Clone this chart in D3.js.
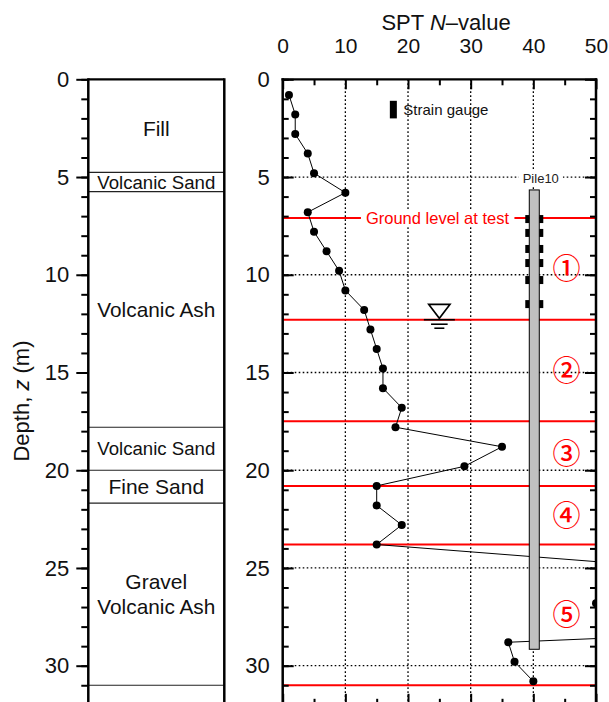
<!DOCTYPE html>
<html><head><meta charset="utf-8">
<script src="https://cdn.jsdelivr.net/npm/d3@7"></script>
<style>
body{margin:0;background:#fff}
svg{display:block;font-family:"Liberation Sans",Arial,sans-serif}
</style>
</head><body>
<svg id="chart" width="609" height="702"></svg>
<script>
// SPT N-value profile (depth in m)
const sptDepth = [0.8,1.8,2.8,3.8,4.8,5.8,6.8,7.8,8.8,9.8,10.8,11.8,12.8,13.8,14.8,15.8,16.8,17.8,18.8,19.8,20.8,21.8,22.8,23.8,24.8,25.8,26.8,27.8,28.8,29.8,30.8];
const sptN     = [1,2,2,4,5,10,4,5,7,9,10,13,14,15,16,16,19,18,35,29,15,15,19,15,55,60,50,110,36,37,40];

// soil column
const layerNames  = ["Fill","Volcanic Sand","Volcanic Ash","Volcanic Sand","Fine Sand","Gravel|Volcanic Ash",""];
const layerTop    = [0,4.76,5.75,17.8,20.0,21.68,31.0];
const layerBottom = [4.76,5.75,17.8,20.0,21.68,31.0,32];

// zone boundaries (red) and zone labels
const zoneDepths = [7.1,12.3,17.5,20.8,23.8,31.0];
const zoneLabels = ["①","②","③","④","⑤"];
const zoneLabelN = 45.3;

// test pile and strain gauges
const pileName = "Pile10";
const pileN = 40.15;
const pileTop = 5.66, pileBottom = 29.16;
const gaugeDepths = [7.15,7.86,8.68,9.4,10.27,11.5];

// ground water level
const waterDepth = 12.3, waterN = 25;

// axes
const depthTicks = [0,5,10,15,20,25,30];
const depthMinor = d3.range(0,33,1);
const nTicks = [0,10,20,30,40,50];
const nMinor = [5,15,25,35,45];

const svg = d3.select("#chart");
const W = 609, H = 702;

const y = d3.scaleLinear().domain([0,32]).range([79.3,704.8]);
const x = d3.scaleLinear().domain([0,50]).range([282.7,596]);
const soil = {left:88.3, right:224.3};

// ---------- soil column ----------
const gSoil = svg.append("g");
layerNames.forEach((name,i)=>{
  if(i>0){
    gSoil.append("line")
      .attr("x1",soil.left).attr("x2",soil.right)
      .attr("y1",y(layerTop[i])).attr("y2",y(layerTop[i]))
      .attr("stroke","#222").attr("stroke-width",1.2);
  }
  if(!name) return;
  const lines = name.split("|");
  const mid = (y(layerTop[i])+y(layerBottom[i]))/2 + (i===0?3:0);
  const lh = 25;
  lines.forEach((ln,j)=>{
    const t = gSoil.append("text")
      .attr("x",(soil.left+soil.right)/2)
      .attr("y",mid + (j-(lines.length-1)/2)*lh)
      .attr("text-anchor","middle").attr("dominant-baseline","central")
      .attr("font-size",21).attr("fill","#111").text(ln);
    const w = t.node().getBBox().width;
    if(w>118) t.attr("font-size",21*118/w);
  });
});
gSoil.append("line").attr("x1",soil.left).attr("x2",soil.right)
  .attr("y1",y(0)).attr("y2",y(0)).attr("stroke","#000").attr("stroke-width",2.2);
[soil.left,soil.right].forEach(xx=>{
  gSoil.append("line").attr("x1",xx).attr("x2",xx)
    .attr("y1",y(0)-1.1).attr("y2",H+5).attr("stroke","#000").attr("stroke-width",2.5);
});

// soil column depth axis (outward ticks)
const soilAxisMinor = d3.axisLeft(y).tickValues(depthMinor).tickSize(7).tickFormat("");
const soilAxis = d3.axisLeft(y).tickValues(depthTicks).tickSize(12).tickPadding(7);
[soilAxisMinor,soilAxis].forEach(ax=>{
  const g = svg.append("g").attr("transform",`translate(${soil.left},0)`).call(ax);
  g.select(".domain").remove();
  g.selectAll(".tick line").attr("stroke-width",2);
  g.selectAll("text").attr("font-size",22).attr("font-family","Liberation Sans, Arial, sans-serif").attr("fill","#111");
});

// ---------- SPT panel ----------
const gGrid = svg.append("g").attr("stroke","#000").attr("stroke-width",1.3).attr("stroke-dasharray","1.6,2.4");
[10,20,30,40].forEach(v=>{
  gGrid.append("line").attr("x1",x(v)).attr("x2",x(v)).attr("y1",y(0)).attr("y2",H+5);
});
[5,10,15,20,25,30].forEach(v=>{
  gGrid.append("line").attr("x1",x(0)).attr("x2",x(50)).attr("y1",y(v)).attr("y2",y(v));
});

// zone boundaries
svg.append("g").selectAll("line").data(zoneDepths).join("line")
  .attr("x1",x(0)).attr("x2",x(50))
  .attr("y1",d=>y(d)).attr("y2",d=>y(d))
  .attr("stroke","#ff0000").attr("stroke-width",2);

// "Ground level at test" label over the first boundary
const glText = svg.append("text")
  .attr("x",x(24.7)).attr("y",y(zoneDepths[0]))
  .attr("text-anchor","middle").attr("dominant-baseline","central")
  .attr("font-size",16.5).attr("fill","#ff0000").text("Ground level at test");
const gb = glText.node().getBBox();
svg.insert("rect",()=>glText.node())
  .attr("x",gb.x-5).attr("y",gb.y).attr("width",gb.width+10).attr("height",gb.height)
  .attr("fill","#fff");

// SPT profile, clipped to the panel
svg.append("clipPath").attr("id","panel").append("rect")
  .attr("x",x(0)).attr("y",y(0)).attr("width",x(50)-x(0)).attr("height",y(32)-y(0));
const gSpt = svg.append("g").attr("clip-path","url(#panel)");
const pts = sptDepth.map((d,i)=>[sptN[i],d]);
gSpt.append("path")
  .attr("d",d3.line().x(p=>x(p[0])).y(p=>y(p[1]))(pts))
  .attr("fill","none").attr("stroke","#000").attr("stroke-width",1);
gSpt.selectAll("circle").data(pts).join("circle")
  .attr("cx",p=>x(p[0])).attr("cy",p=>y(p[1])).attr("r",4).attr("fill","#000");

// pile
const pileW = 10;
svg.append("rect")
  .attr("x",x(pileN)-pileW/2).attr("y",y(pileTop))
  .attr("width",pileW).attr("height",y(pileBottom)-y(pileTop))
  .attr("fill","#c0c0c0").attr("stroke","#000").attr("stroke-width",1);
// strain gauges on both faces
const gGauge = svg.append("g");
gaugeDepths.forEach(d=>{
  [-1,1].forEach(s=>{
    gGauge.append("rect")
      .attr("x", s<0 ? x(pileN)-pileW/2-4 : x(pileN)+pileW/2)
      .attr("y",y(d)-4).attr("width",4).attr("height",8).attr("fill","#000");
  });
});
// pile name
const pText = svg.append("text")
  .attr("x",x(pileN)+6.5).attr("y",y(5.0)+5.5)
  .attr("text-anchor","middle").attr("font-size",13).attr("fill","#222").text(pileName);
const pb = pText.node().getBBox();
svg.insert("rect",()=>pText.node())
  .attr("x",pb.x-4).attr("y",pb.y).attr("width",pb.width+8).attr("height",pb.height)
  .attr("fill","#fff");

// strain gauge legend
svg.append("rect").attr("x",x(17.1)).attr("y",y(1.1)).attr("width",7).attr("height",y(2.0)-y(1.1)).attr("fill","#000");
svg.append("text").attr("x",x(17.1)+13.5).attr("y",y(1.55))
  .attr("dominant-baseline","central").attr("font-size",15).attr("fill","#111").text("Strain gauge");

// ground water level symbol
const wx = x(waterN), wy = y(waterDepth);
const gW = svg.append("g").attr("stroke","#000").attr("stroke-width",1.6).attr("fill","#fff");
gW.append("path").attr("d",`M${wx-10.7},${wy-15.4}L${wx+10.7},${wy-15.4}L${wx},${wy-1.4}Z`);
gW.append("line").attr("x1",wx-15.5).attr("x2",wx+15.5).attr("y1",wy).attr("y2",wy);
gW.append("line").attr("x1",wx-8.3).attr("x2",wx+8.3).attr("y1",wy+4.5).attr("y2",wy+4.5);
gW.append("line").attr("x1",wx-5).attr("x2",wx+5).attr("y1",wy+8.5).attr("y2",wy+8.5);

// zone numbers
svg.append("g").selectAll("text").data(zoneLabels).join("text")
  .attr("x",x(zoneLabelN))
  .attr("y",(d,i)=>y((zoneDepths[i]+zoneDepths[i+1])/2)-1.5)
  .attr("text-anchor","middle").attr("dominant-baseline","central")
  .attr("font-family","Noto Sans CJK JP, sans-serif").attr("font-weight",500)
  .attr("font-size",28).attr("fill","#ff0000").text(d=>d);

// panel axes (inward ticks)
function styleAxis(g){
  g.select(".domain").remove();
  g.selectAll(".tick line").attr("stroke-width",2);
  g.selectAll("text").attr("font-size",21).attr("font-family","Liberation Sans, Arial, sans-serif").attr("fill","#111");
}
svg.append("g").attr("transform",`translate(${x(0)},0)`)
  .call(d3.axisLeft(y).tickValues(depthMinor).tickSize(-6).tickFormat("")).call(styleAxis);
svg.append("g").attr("transform",`translate(${x(0)},0)`)
  .call(d3.axisLeft(y).tickValues(depthTicks).tickSize(-11).tickPadding(13)).call(styleAxis)
  .selectAll("text").attr("font-size",22);
svg.append("g").attr("transform",`translate(${x(50)},0)`)
  .call(d3.axisRight(y).tickValues(depthMinor).tickSize(-6).tickFormat("")).call(styleAxis);
svg.append("g").attr("transform",`translate(${x(50)},0)`)
  .call(d3.axisRight(y).tickValues(depthTicks).tickSize(-11).tickFormat("")).call(styleAxis);
svg.append("g").attr("transform",`translate(0,${y(0)})`)
  .call(d3.axisTop(x).tickValues(nMinor).tickSize(-6).tickFormat("")).call(styleAxis);
svg.append("g").attr("transform",`translate(0,${y(0)})`)
  .call(d3.axisTop(x).tickValues(nTicks).tickSize(-10).tickPadding(26)).call(styleAxis);
svg.append("g").attr("transform",`translate(0,${y(32)})`)
  .call(d3.axisBottom(x).tickValues(nMinor).tickSize(-6).tickFormat("")).call(styleAxis);
svg.append("g").attr("transform",`translate(0,${y(32)})`)
  .call(d3.axisBottom(x).tickValues(nTicks).tickSize(-11).tickFormat("")).call(styleAxis);

// panel frame
svg.append("line").attr("x1",x(0)-1.2).attr("x2",x(50)+1.2).attr("y1",y(0)).attr("y2",y(0)).attr("stroke","#000").attr("stroke-width",2.2);
[x(0),x(50)].forEach(xx=>{
  svg.append("line").attr("x1",xx).attr("x2",xx).attr("y1",y(0)-1.1).attr("y2",H+5)
    .attr("stroke","#000").attr("stroke-width",2.5);
});

// axis titles
const title = svg.append("text").attr("x",446).attr("y",30)
  .attr("text-anchor","middle").attr("font-size",22).attr("fill","#111");
title.append("tspan").text("SPT ");
title.append("tspan").attr("font-style","italic").text("N");
title.append("tspan").text("–value");

const ytitle = svg.append("text").attr("transform","translate(29,401) rotate(-90)")
  .attr("text-anchor","middle").attr("font-size",22).attr("fill","#111");
ytitle.append("tspan").text("Depth, ");
ytitle.append("tspan").attr("font-style","italic").text("z");
ytitle.append("tspan").text(" (m)");
</script>
</body></html>
